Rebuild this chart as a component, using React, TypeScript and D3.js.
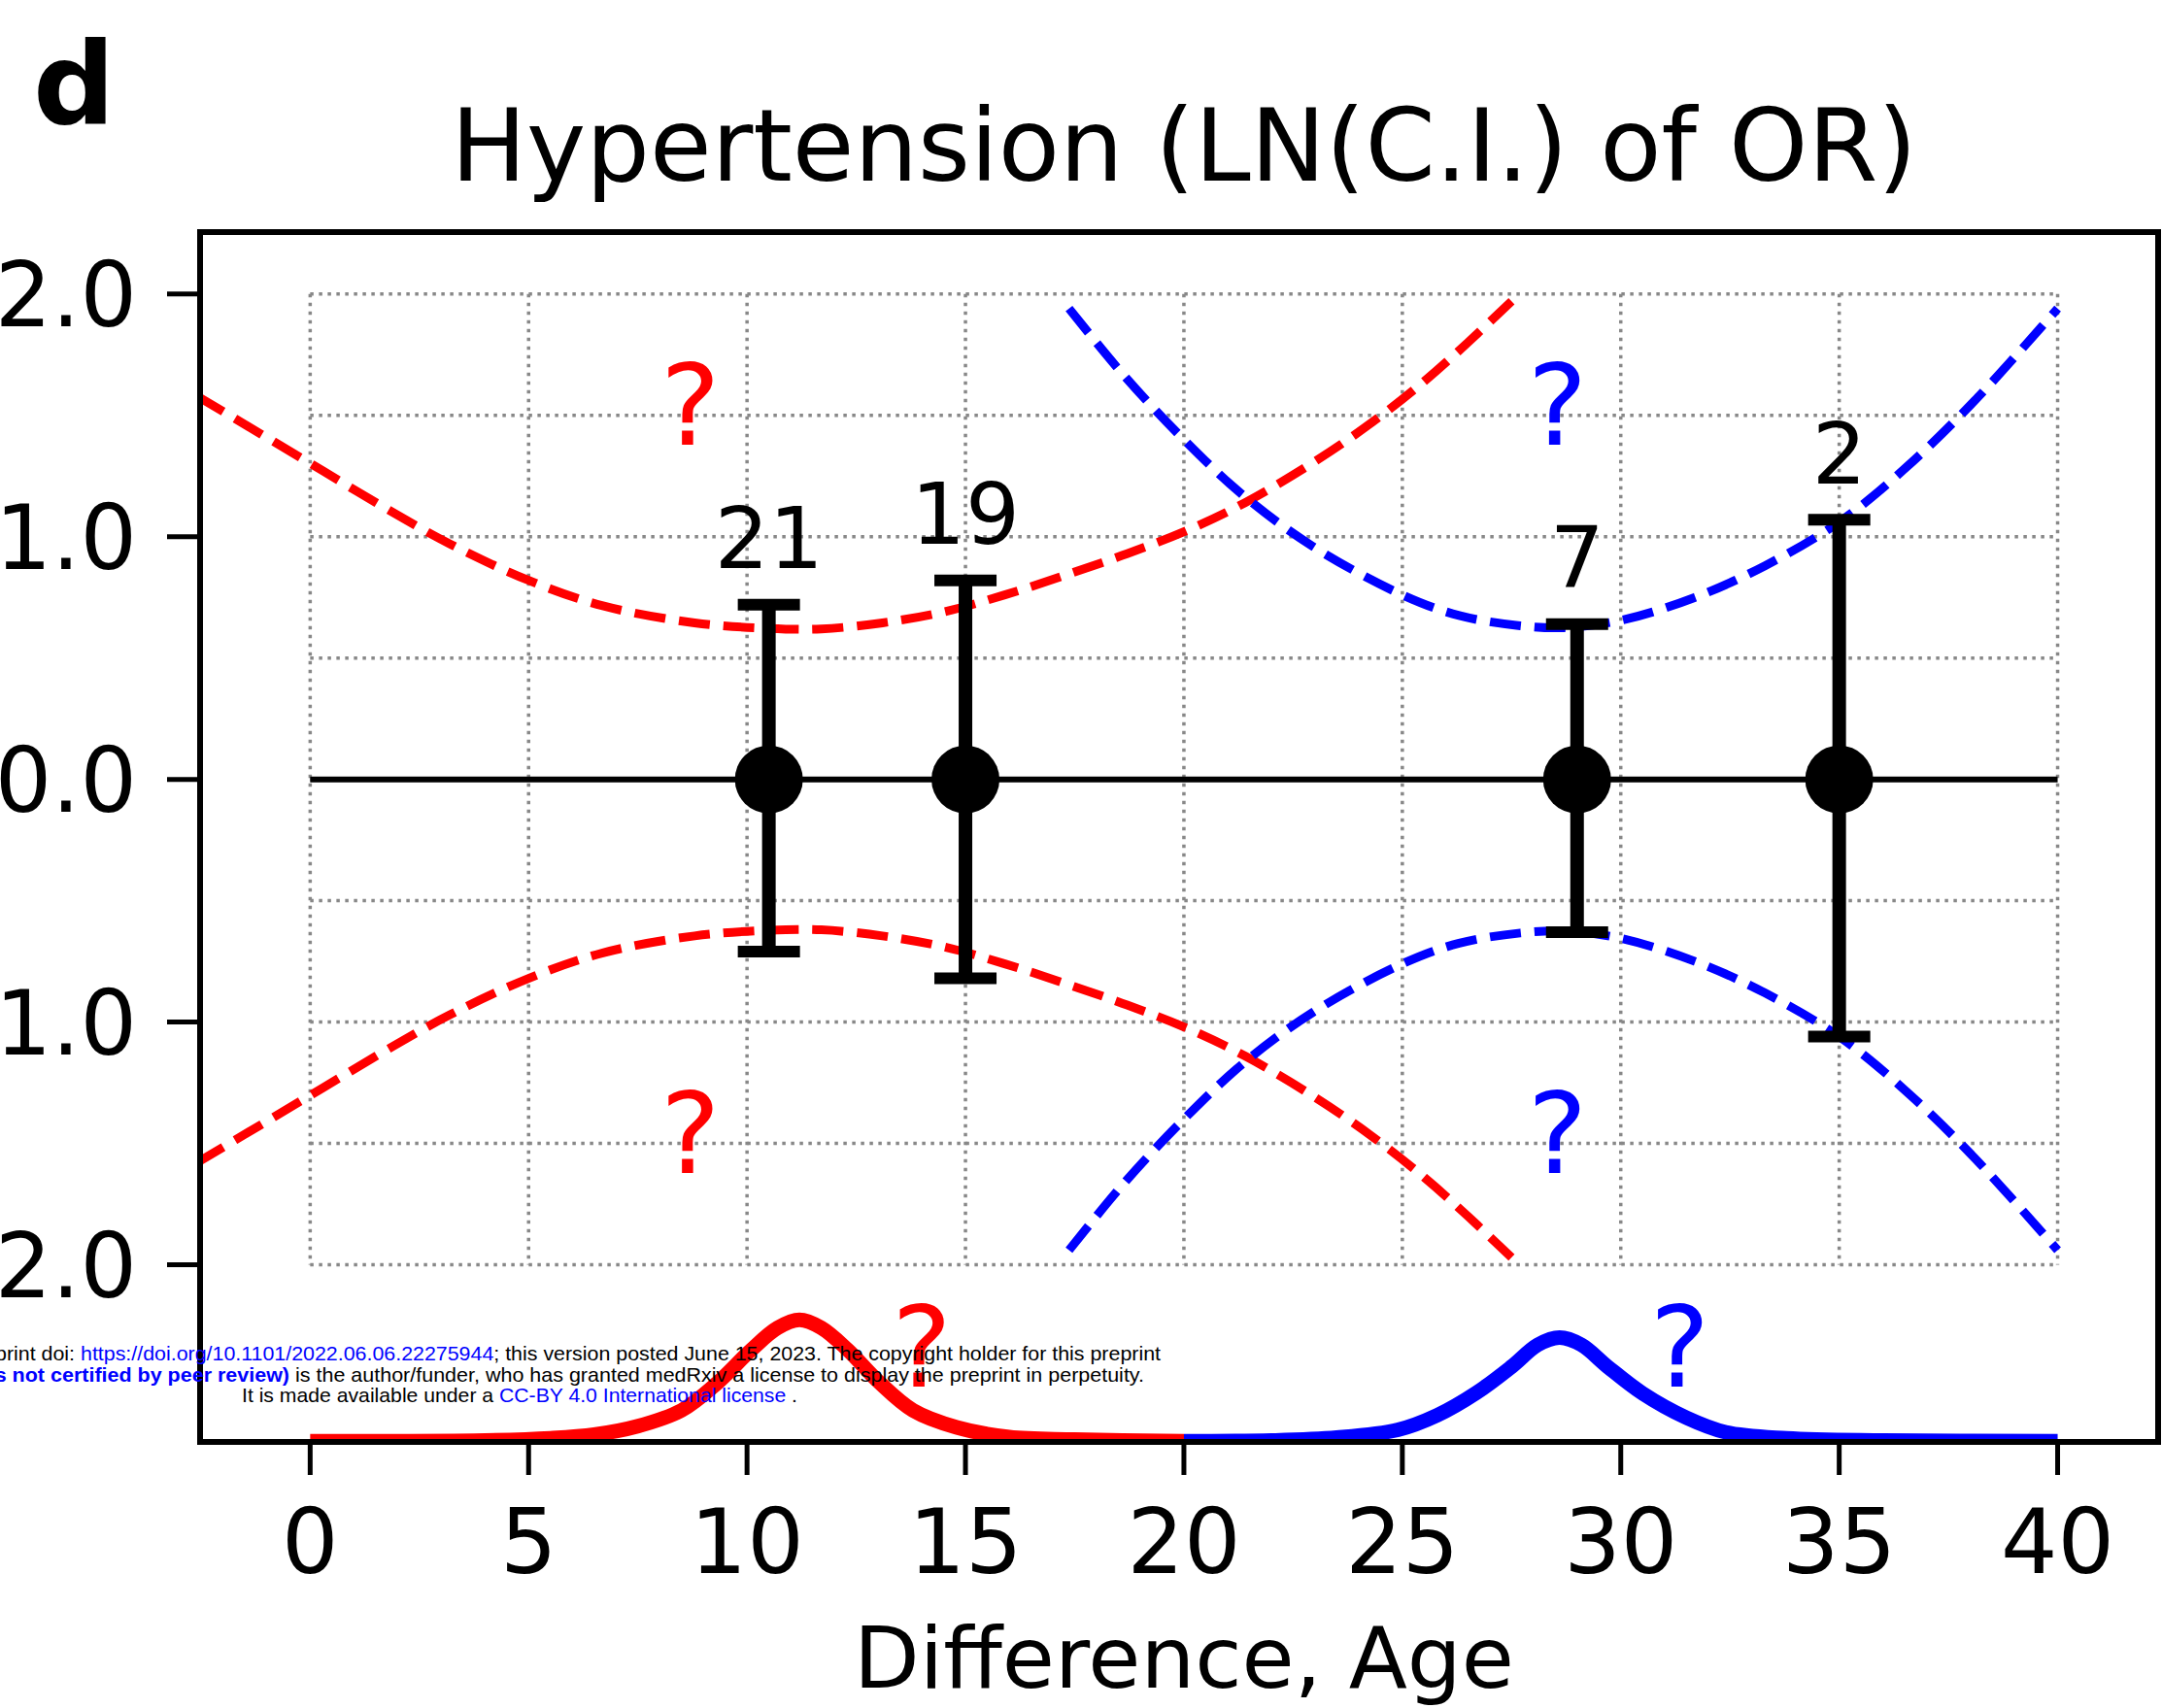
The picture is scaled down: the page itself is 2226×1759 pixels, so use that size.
import * as d3 from "d3"

// tick values / labels
const xTicks = [0, 5, 10, 15, 20, 25, 30, 35, 40]
const yTicks = [2, 1, 0, -1, -2]
const yTickLabels = ["2.0", "1.0", "0.0", "\u22121.0", "\u22122.0"]
const gridX = [0, 5, 10, 15, 20, 25, 30, 35, 40]
const gridY = [2, 1.5, 1, 0.5, 0, -0.5, -1, -1.5, -2]

// estimates with confidence limits
const ages = [10.5, 15, 29, 35]
const estimates = [0, 0, 0, 0]
const ciUpper = [0.72, 0.82, 0.64, 1.07]
const ciLower = [-0.71, -0.82, -0.63, -1.06]
const counts = ["21", "19", "7", "2"]

// dashed envelope half-widths (drawn as +/-)
const redEnvX = [-2.6, -1.1, 0.3, 1.7, 3.2, 5, 6.7, 8.8, 10.5, 11.7, 13.1, 14.5, 15.9, 17.35, 18.7, 20, 21.4, 23, 24.3, 25.5, 26.5, 27.5]
const redEnvY = [1.58, 1.42, 1.27, 1.12, 0.97, 0.82, 0.715, 0.645, 0.622, 0.62, 0.645, 0.69, 0.76, 0.845, 0.93, 1.02, 1.14, 1.31, 1.47, 1.64, 1.8, 1.97]
const blueEnvX = [17.37, 18.6, 20, 21.36, 22.95, 25, 26.3, 27.7, 28.7, 30, 31.7, 33.3, 35, 36.5, 38.1, 40]
const blueEnvY = [1.94, 1.67, 1.4, 1.17, 0.96, 0.76, 0.675, 0.633, 0.625, 0.655, 0.75, 0.88, 1.06, 1.28, 1.56, 1.94]

// age distributions at the bottom
const redDistX = [0, 4, 5.5, 6.5, 7.5, 8.5, 9.3, 10.1, 10.7, 11.2, 11.7, 12.3, 13.0, 13.8, 14.8, 16.0, 17.5, 20]
const redDistY = [-2.727, -2.724, -2.715, -2.7, -2.665, -2.6, -2.49, -2.35, -2.26, -2.227, -2.26, -2.35, -2.48, -2.6, -2.67, -2.71, -2.72, -2.727]
const blueDistX = [20, 22, 23.5, 24.9, 25.8, 26.7, 27.5, 28.1, 28.6, 29.1, 29.7, 30.5, 31.5, 32.4, 33.8, 36, 40]
const blueDistY = [-2.727, -2.724, -2.712, -2.68, -2.62, -2.527, -2.42, -2.33, -2.3, -2.33, -2.42, -2.53, -2.63, -2.69, -2.715, -2.724, -2.727]

// question marks
const qMarks = [
  { x: 8.7, y: 1.38, color: "#ff0000" },
  { x: 8.7, y: -1.62, color: "#ff0000" },
  { x: 28.55, y: 1.38, color: "#0000ff" },
  { x: 28.55, y: -1.62, color: "#0000ff" },
  { x: 14.0, y: -2.5, color: "#ff0000" },
  { x: 31.35, y: -2.5, color: "#0000ff" },
]

const W = 2226
const H = 1759
const left = 206
const right = 2222
const top = 239
const bottom = 1485

export default function App() {
  const x = d3.scaleLinear().domain([-2.52, 42.3]).range([left, right])
  const y = d3.scaleLinear().domain([-2.73, 2.255]).range([bottom, top])
  const font = "DejaVu Sans, Verdana, sans-serif"

  const line = d3
    .line<[number, number]>()
    .x((d) => x(d[0]))
    .y((d) => y(d[1]))
    .curve(d3.curveCatmullRom)

  const env = (xs: number[], ys: number[], sign: number) =>
    line(xs.map((v, i) => [v, sign * ys[i]] as [number, number])) || ""
  const dist = (xs: number[], ys: number[]) =>
    line(xs.map((v, i) => [v, ys[i]] as [number, number])) || ""

  const capHalf = 32
  const dash = "32,14"

  return (
    <svg
      width={W}
      height={H}
      viewBox={`0 0 ${W} ${H}`}
      style={{ position: "absolute", left: 0, top: 0, background: "#fff" }}
    >
      <defs>
        <clipPath id="axclip">
          <rect x={left} y={top} width={right - left} height={bottom - top} />
        </clipPath>
      </defs>
      <rect x={0} y={0} width={W} height={H} fill="#fff" />

      {/* panel letter and title */}
      <text x={34} y={128} fontFamily={font} fontWeight="bold" fontSize={118} fill="#000">
        d
      </text>
      <text x={x(20)} y={186} fontFamily={font} fontSize={103.5} textAnchor="middle" fill="#000">
        Hypertension (LN(C.I.) of OR)
      </text>

      {/* dotted grid */}
      <g stroke="#888" strokeWidth={3.5} strokeDasharray="3.5,5.5" fill="none">
        {gridX.map((g) => (
          <line key={"gx" + g} x1={x(g)} x2={x(g)} y1={y(2)} y2={y(-2)} />
        ))}
        {gridY.map((g) => (
          <line key={"gy" + g} x1={x(0)} x2={x(40)} y1={y(g)} y2={y(g)} />
        ))}
      </g>

      <g clipPath="url(#axclip)" fill="none">
        {/* dashed envelopes */}
        <path d={env(redEnvX, redEnvY, 1)} stroke="#ff0000" strokeWidth={9} strokeDasharray={dash} />
        <path d={env(redEnvX, redEnvY, -1)} stroke="#ff0000" strokeWidth={9} strokeDasharray={dash} />
        <path d={env(blueEnvX, blueEnvY, 1)} stroke="#0000ff" strokeWidth={9} strokeDasharray={dash} />
        <path d={env(blueEnvX, blueEnvY, -1)} stroke="#0000ff" strokeWidth={9} strokeDasharray={dash} />

        {/* distributions */}
        <path d={dist(redDistX, redDistY)} stroke="#ff0000" strokeWidth={15} />
        <path d={dist(blueDistX, blueDistY)} stroke="#0000ff" strokeWidth={15} />
      </g>

      {/* zero line */}
      <line x1={x(0)} x2={x(40)} y1={y(0)} y2={y(0)} stroke="#000" strokeWidth={6} />

      {/* error bars */}
      <g stroke="#000">
        {ages.map((a, i) => (
          <g key={"eb" + i}>
            <line x1={x(a)} x2={x(a)} y1={y(ciUpper[i])} y2={y(ciLower[i])} strokeWidth={14} />
            <line x1={x(a) - capHalf} x2={x(a) + capHalf} y1={y(ciUpper[i])} y2={y(ciUpper[i])} strokeWidth={12} />
            <line x1={x(a) - capHalf} x2={x(a) + capHalf} y1={y(ciLower[i])} y2={y(ciLower[i])} strokeWidth={12} />
          </g>
        ))}
      </g>
      {ages.map((a, i) => (
        <circle key={"pt" + i} cx={x(a)} cy={y(estimates[i])} r={35} fill="#000" />
      ))}
      {ages.map((a, i) => (
        <text
          key={"n" + i}
          x={x(a)}
          y={y(ciUpper[i] + 0.15)}
          fontFamily={font}
          fontSize={88}
          textAnchor="middle"
          fill="#000"
        >
          {counts[i]}
        </text>
      ))}

      {/* question marks */}
      {qMarks.map((q, i) => (
        <text key={"q" + i} x={x(q.x)} y={y(q.y)} fontFamily={font} fontSize={116} textAnchor="middle" fill={q.color}>
          ?
        </text>
      ))}

      {/* spines */}
      <rect x={left} y={top} width={right - left} height={bottom - top} fill="none" stroke="#000" strokeWidth={6} />

      {/* x axis */}
      {xTicks.map((t) => (
        <g key={"xt" + t}>
          <line x1={x(t)} x2={x(t)} y1={bottom} y2={bottom + 34} stroke="#000" strokeWidth={5} />
          <text x={x(t)} y={1620} fontFamily={font} fontSize={92} textAnchor="middle" fill="#000">
            {t}
          </text>
        </g>
      ))}
      <text x={x(20)} y={1738} fontFamily={font} fontSize={88} textAnchor="middle" fill="#000">
        Difference, Age
      </text>

      {/* y axis */}
      {yTicks.map((t, i) => (
        <g key={"yt" + t}>
          <line x1={left - 34} x2={left} y1={y(t)} y2={y(t)} stroke="#000" strokeWidth={5} />
          <text x={141} y={y(t) + 33} fontFamily={font} fontSize={92} textAnchor="end" fill="#000">
            {yTickLabels[i]}
          </text>
        </g>
      ))}

      {/* preprint watermark */}
      <g fontFamily="Liberation Sans, Arial, sans-serif" fontSize={21} fill="#000">
        <text x={535} y={1401} textAnchor="middle" textLength={1320} lengthAdjust="spacingAndGlyphs">
          medRxiv preprint doi: <tspan fill="#0000ff">https://doi.org/10.1101/2022.06.06.22275944</tspan>; this
          version posted June 15, 2023. The copyright holder for this preprint
        </text>
        <text x={535} y={1423} textAnchor="middle" textLength={1286} lengthAdjust="spacingAndGlyphs">
          <tspan fill="#0000ff" fontWeight="bold">(which was not certified by peer review)</tspan> is the
          author/funder, who has granted medRxiv a license to display the preprint in perpetuity.
        </text>
        <text x={535} y={1444} textAnchor="middle" textLength={572} lengthAdjust="spacingAndGlyphs">
          It is made available under a <tspan fill="#0000ff">CC-BY 4.0 International license</tspan> .
        </text>
      </g>
    </svg>
  )
}
